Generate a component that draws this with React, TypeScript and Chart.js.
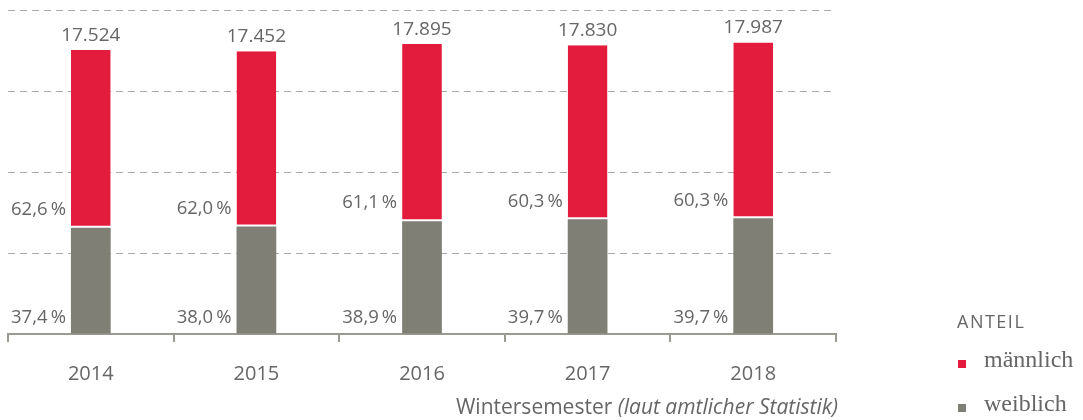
import React, { useEffect, useRef } from "react";
import { Chart, registerables } from "chart.js";

Chart.register(...registerables);

const years = ["2014", "2015", "2016", "2017", "2018"];
const totals = ["17.524", "17.452", "17.895", "17.830", "17.987"];
const weiblich = [6554, 6632, 6961, 7079, 7141];
const maennlich = [10970, 10820, 10934, 10751, 10846];
const weiblichPct = ["37,4", "38,0", "38,9", "39,7", "39,7"];
const maennlichPct = ["62,6", "62,0", "61,1", "60,3", "60,3"];

const RED = "#E31B3C";
const GREY = "#7F7F76";
const TEXT = "#666666";
const FONT = "'Open Sans', 'DejaVu Sans', sans-serif";

const labelPlugin = {
  id: "labelPlugin",
  afterDatasetsDraw(chart: any) {
    const ctx = chart.ctx;
    const m0 = chart.getDatasetMeta(0);
    const m1 = chart.getDatasetMeta(1);
    ctx.save();
    ctx.fillStyle = TEXT;
    ctx.textBaseline = "middle";
    for (let i = 0; i < years.length; i++) {
      const b0 = m0.data[i];
      const b1 = m1.data[i];
      ctx.font = `19px ${FONT}`;
      ctx.textAlign = "center";
      ctx.fillText(totals[i], b1.x, b1.y - 15);
      const left = b0.x - b0.width / 2 - 5;
      ctx.font = `18.5px ${FONT}`;
      ctx.textAlign = "right";
      ctx.fillText(maennlichPct[i] + "\u2009%", left, b0.y - 18);
      ctx.fillText(weiblichPct[i] + "\u2009%", left, b0.base - 16);
    }
    ctx.restore();
  },
  afterDraw(chart: any) {
    const ctx = chart.ctx;
    const area = chart.chartArea;
    ctx.save();
    ctx.fillStyle = TEXT;
    ctx.textBaseline = "middle";
    // x-axis title
    ctx.font = `italic 21px ${FONT}`;
    const it = "(laut amtlicher Statistik)";
    const itW = ctx.measureText(it).width;
    ctx.textAlign = "right";
    const right = area.right + 2;
    ctx.fillText(it, right, 408);
    ctx.font = `21px ${FONT}`;
    ctx.fillText("Wintersemester ", right - itW, 408);
    // legend
    ctx.textAlign = "left";
    ctx.font = `18px ${FONT}`;
    (ctx as any).letterSpacing = "1.5px";
    ctx.fillText("ANTEIL", 957, 323);
    (ctx as any).letterSpacing = "0px";
    ctx.font = `24px 'Liberation Serif', 'DejaVu Serif', serif`;
    ctx.fillStyle = RED;
    ctx.fillRect(958, 360, 8, 8);
    ctx.fillStyle = TEXT;
    ctx.fillText("männlich", 984, 361);
    ctx.fillStyle = GREY;
    ctx.fillRect(958, 404, 8, 8);
    ctx.fillStyle = TEXT;
    ctx.fillText("weiblich", 984, 405);
    ctx.restore();
  },
};

export default function App() {
  const ref = useRef<HTMLCanvasElement>(null);
  useEffect(() => {
    if (!ref.current) return;
    const chart = new Chart(ref.current, {
      type: "bar",
      data: {
        labels: years,
        datasets: [
          {
            label: "weiblich",
            data: weiblich,
            backgroundColor: GREY,
            borderWidth: 0,
            barPercentage: 0.96,
            categoryPercentage: 0.25,
          },
          {
            label: "männlich",
            data: maennlich,
            backgroundColor: RED,
            borderColor: "#ffffff",
            borderWidth: { top: 0, left: 0, right: 0, bottom: 2 },
            borderSkipped: false,
            barPercentage: 0.96,
            categoryPercentage: 0.25,
          },
        ],
      },
      options: {
        animation: false,
        responsive: false,
        devicePixelRatio: 1,
        layout: { padding: { left: 8, right: 247, top: 10, bottom: 0 } },
        plugins: { legend: { display: false }, tooltip: { enabled: false } },
        scales: {
          x: {
            stacked: true,
            afterFit: (s: any) => {
              s.height = 86;
            },
            border: { display: true, color: "#9a9a90", width: 2 },
            grid: {
              display: true,
              drawOnChartArea: false,
              drawTicks: true,
              tickLength: 8,
              color: "#9a9a90",
              lineWidth: 2,
              offset: true,
            },
            ticks: {
              color: TEXT,
              font: { family: FONT, size: 20 },
              padding: 20,
            },
          },
          y: {
            stacked: true,
            min: 0,
            max: 20000,
            afterFit: (s: any) => {
              s.width = 0;
            },
            ticks: { display: false, stepSize: 5000 },
            border: { display: false, dash: [7, 5] },
            grid: {
              drawTicks: false,
              tickLength: 0,
              color: (c: any) => (c.tick && c.tick.value === 0 ? "rgba(0,0,0,0)" : "#aaaaaa"),
              lineWidth: 1,
            },
          },
        },
      },
      plugins: [labelPlugin],
    } as any);
    return () => chart.destroy();
  }, []);
  return (
    <div style={{ position: "absolute", left: 0, top: 0, width: 1083, height: 420 }}>
      <canvas ref={ref} width={1083} height={420} style={{ display: "block" }} />
    </div>
  );
}
